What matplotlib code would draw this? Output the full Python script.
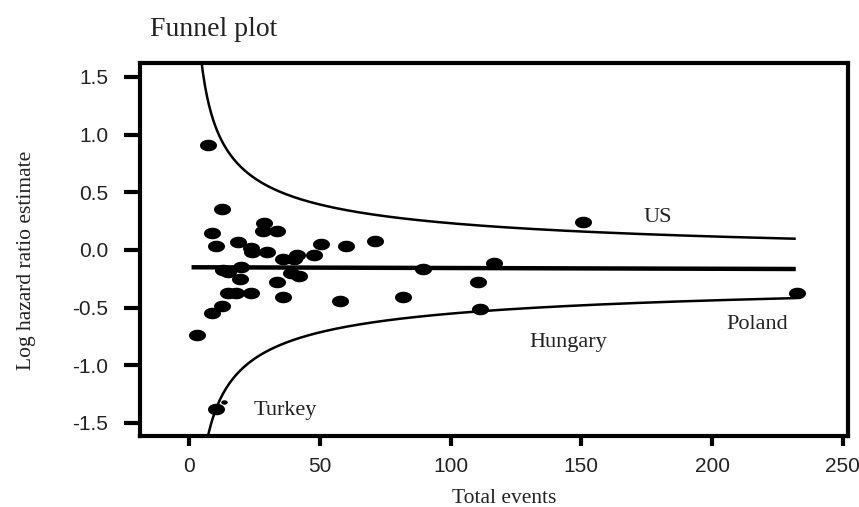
import numpy as np
import matplotlib as mpl
from matplotlib import pyplot as plt
from matplotlib.path import Path
from matplotlib.markers import MarkerStyle

mpl.use('Agg')

# study-level estimates: total events vs log hazard ratio
total_events = [7.3, 3.2, 10.3, 8.7, 12.6, 12.5, 8.7, 10.3, 18.9, 23.7,
                28.7, 28.4, 33.8, 50.3, 60.0, 71.1, 24.0, 30.0, 47.9, 41.2,
                40.3, 36.0, 13.1, 15.0, 19.8, 19.6, 33.6, 39.2, 42.0, 15.0,
                18.0, 23.8, 36.0, 57.7, 150.5, 89.3, 116.7, 110.5, 81.7,
                111.1, 232.3]
log_hr = [0.91, -0.74, -1.38, -0.55, -0.49, 0.355, 0.145, 0.035, 0.067,
          0.02, 0.237, 0.165, 0.165, 0.05, 0.035, 0.08, -0.02, -0.015,
          -0.043, -0.043, -0.078, -0.078, -0.17, -0.19, -0.145, -0.25,
          -0.28, -0.2, -0.23, -0.37, -0.37, -0.37, -0.405, -0.44, 0.243,
          -0.168, -0.11, -0.28, -0.405, -0.515, -0.37]

# one tiny study drawn with a small dot
small_events = [13.4]
small_log_hr = [-1.32]

# pooled estimate line
pooled_x = [1, 232]
pooled_y = [-0.15, -0.165]

# 95% limits: pooled +/- z * 2 / sqrt(events)
pooled = -0.16
z_mult = 1.96 * 2.0

labels = ['US', 'Hungary', 'Poland', 'Turkey']
label_x = [179.1, 145.1, 217.3, 36.9]
label_y = [0.28, -0.80, -0.646, -1.39]

serif = 'Liberation Serif'
narrow = ['Liberation Sans Narrow', 'Liberation Sans', 'DejaVu Sans']
ink = '#222222'

fig = plt.figure(figsize=(8.59, 5.07), dpi=100)
ax = fig.add_axes([0.163, 0.140, 0.824, 0.736])

n = np.linspace(3.5, 232, 600)
se = z_mult / np.sqrt(n)
ax.plot(n, pooled + se, color='black', lw=1.8, solid_capstyle='butt')
ax.plot(n, pooled - se, color='black', lw=1.8, solid_capstyle='butt')
ax.plot(pooled_x, pooled_y, color='black', lw=3.2, solid_capstyle='butt')

# flattened ellipse marker
t = np.linspace(0, 2 * np.pi, 60)
ell = Path(np.column_stack([np.cos(t), 0.68 * np.sin(t)]), closed=True)
ax.scatter(total_events, log_hr, marker=MarkerStyle(ell), s=150,
           color='black', linewidths=0, zorder=3)
ax.scatter(small_events, small_log_hr, marker=MarkerStyle(ell), s=22,
           color='black', linewidths=0, zorder=3)

for lab, lx, ly in zip(labels, label_x, label_y):
    ax.text(lx, ly, lab, ha='center', va='center', fontsize=16,
            family=serif, color=ink)

ax.set_xlim(-18.7, 251.9)
ax.set_ylim(-1.613, 1.622)
ax.set_xticks([0, 50, 100, 150, 200, 250])
ax.set_yticks([-1.5, -1.0, -0.5, 0.0, 0.5, 1.0, 1.5])
ax.set_yticklabels(['-1.5', '-1.0', '-0.5', '0.0', '0.5', '1.0', '1.5'])

for sp in ax.spines.values():
    sp.set_linewidth(3)
ax.tick_params(axis='x', direction='out', length=7.2, width=3, pad=8.0,
               labelsize=15, labelcolor=ink)
ax.tick_params(axis='y', direction='out', length=11.5, width=3, pad=11.5,
               labelsize=15, labelcolor=ink)
for lbl in ax.get_xticklabels() + ax.get_yticklabels():
    lbl.set_family(narrow)

ax.set_xlabel('Total events', fontsize=15.5, family=serif, color=ink)
ax.xaxis.label.set_va('center')
ax.xaxis.set_label_coords(0.515, -0.168)
ax.set_ylabel('Log hazard ratio estimate', fontsize=15.5, family=serif,
              color=ink)
ax.yaxis.label.set_va('center')
ax.yaxis.set_label_coords(-0.160, 0.472)
fig.text(150 / 859, 1 - 29 / 507, 'Funnel plot', fontsize=20, family=serif,
         color=ink, ha='left', va='center')

plt.savefig('out.png', dpi=100)
